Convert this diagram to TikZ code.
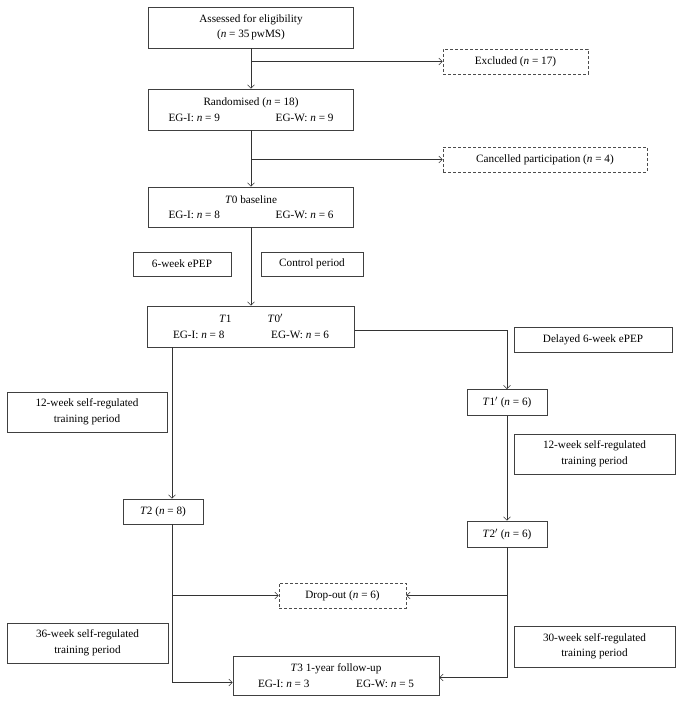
\documentclass[tikz,border=0pt]{standalone}
\usepackage{fontspec}
\setmainfont{Liberation Serif}
\usetikzlibrary{arrows, arrows.meta}
\tikzset{
	block/.style={draw=black!75, line width=0.6pt, align=center, inner sep=2pt},
	dropped/.style={draw=black!70, dashed, dash pattern=on 3pt off 2pt, line width=0.6pt, align=center, inner sep=2pt},
	link/.style={draw=black!80, line width=0.6pt, >={Straight Barb[length=3.5pt, width=7pt]}}
}
\newcommand{\samplen}{\textit{n}}
\newcommand{\groupline}[3]{\makebox[#1]{EG-I: \samplen{} = #2\hfill EG-W: \samplen{} = #3}}

\begin{document}
\begin{tikzpicture}[x=1pt, y=-1pt, font=\fontsize{11.2}{15.5}\selectfont]
		\useasboundingbox (0,0) rectangle (683,703);
		
		\node[block, minimum width=205pt, minimum height=41pt] (assess) at (251,27.5) {Assessed for eligibility\\(\samplen{} = 35\,pwMS)};
		\node[dropped, minimum width=145pt, minimum height=25pt] (excl) at (515.5,61.5) {Excluded (\samplen{} = 17)};
		\node[block, minimum width=205pt, minimum height=41pt] (rand) at (251,109.5) {Randomised (\samplen{} = 18)\\\groupline{165pt}{9}{9}};
		\node[dropped, minimum width=204pt, minimum height=25pt] (canc) at (545,159.5) {Cancelled participation (\samplen{} = 4)};
		\node[block, minimum width=205pt, minimum height=40pt] (t0) at (251,207) {\textit{T}0 baseline\\\groupline{165pt}{8}{6}};
		
		\node[block, minimum width=98pt, minimum height=24pt] (epep) at (182,264) {6-week ePEP};
		\node[block, minimum width=102pt, minimum height=24pt] (ctrl) at (312,264) {Control period};
		
		\node[block, minimum width=207pt, minimum height=41pt] (t1) at (251,326.5) {\makebox[64pt]{\textit{T}1\hfill\textit{T}0$'$}\\\groupline{156pt}{8}{6}};
		\node[block, minimum width=158pt, minimum height=25pt] (delay) at (593,339.5) {Delayed 6-week ePEP};
		
		% left arm
		\node[block, minimum width=160pt, minimum height=40pt] (selfl) at (87,412) {12-week self-regulated\\training period};
		\node[block, minimum width=80pt, minimum height=25pt] (t2) at (163,511.5) {\textit{T}2 (\samplen{} = 8)};
		\node[block, minimum width=161pt, minimum height=40pt] (selflong) at (87.5,643) {36-week self-regulated\\training period};
		
		% right arm
		\node[block, minimum width=80pt, minimum height=26pt] (t1p) at (507,402.5) {\textit{T}1$'$ (\samplen{} = 6)};
		\node[block, minimum width=161pt, minimum height=40pt] (selfr) at (594.5,454) {12-week self-regulated\\training period};
		\node[block, minimum width=80pt, minimum height=26pt] (t2p) at (507,534) {\textit{T}2$'$ (\samplen{} = 6)};
		\node[block, minimum width=161pt, minimum height=41pt] (selfshort) at (594.5,646.5) {30-week self-regulated\\training period};
		
		\node[dropped, minimum width=127pt, minimum height=25pt] (drop) at (342.5,595.5) {Drop-out (\samplen{} = 6)};
		\node[block, minimum width=206pt, minimum height=39pt] (t3) at (336,675.5) {\textit{T}3 1-year follow-up\\\groupline{156pt}{3}{5}};
		
		\coordinate (lx) at (172,0);
		
		\draw[link, ->] (assess.south) -- (rand.north);
		\draw[link, ->] (assess.south |- excl.west) -- (excl.west);
		\draw[link, ->] (rand.south) -- (t0.north);
		\draw[link, ->] (rand.south |- canc.west) -- (canc.west);
		\draw[link, ->] (t0.south) -- (t1.north);
		
		\draw[link, ->] (lx |- t1.south) -- (lx |- t2.north);
		\draw[link, ->] (lx |- t2.south) |- ([yshift=-7pt]t3.west);
		\draw[link, ->] (lx |- drop.west) -- (drop.west);
		
		\draw[link, ->] ([yshift=-4pt]t1.east) -| (t1p.north);
		\draw[link, ->] (t1p.south) -- (t2p.north);
		\draw[link, ->] (t2p.south) |- ([yshift=-2pt]t3.east);
		\draw[link, ->] (t2p.south |- drop.east) -- (drop.east);
	\end{tikzpicture}
\end{document}
